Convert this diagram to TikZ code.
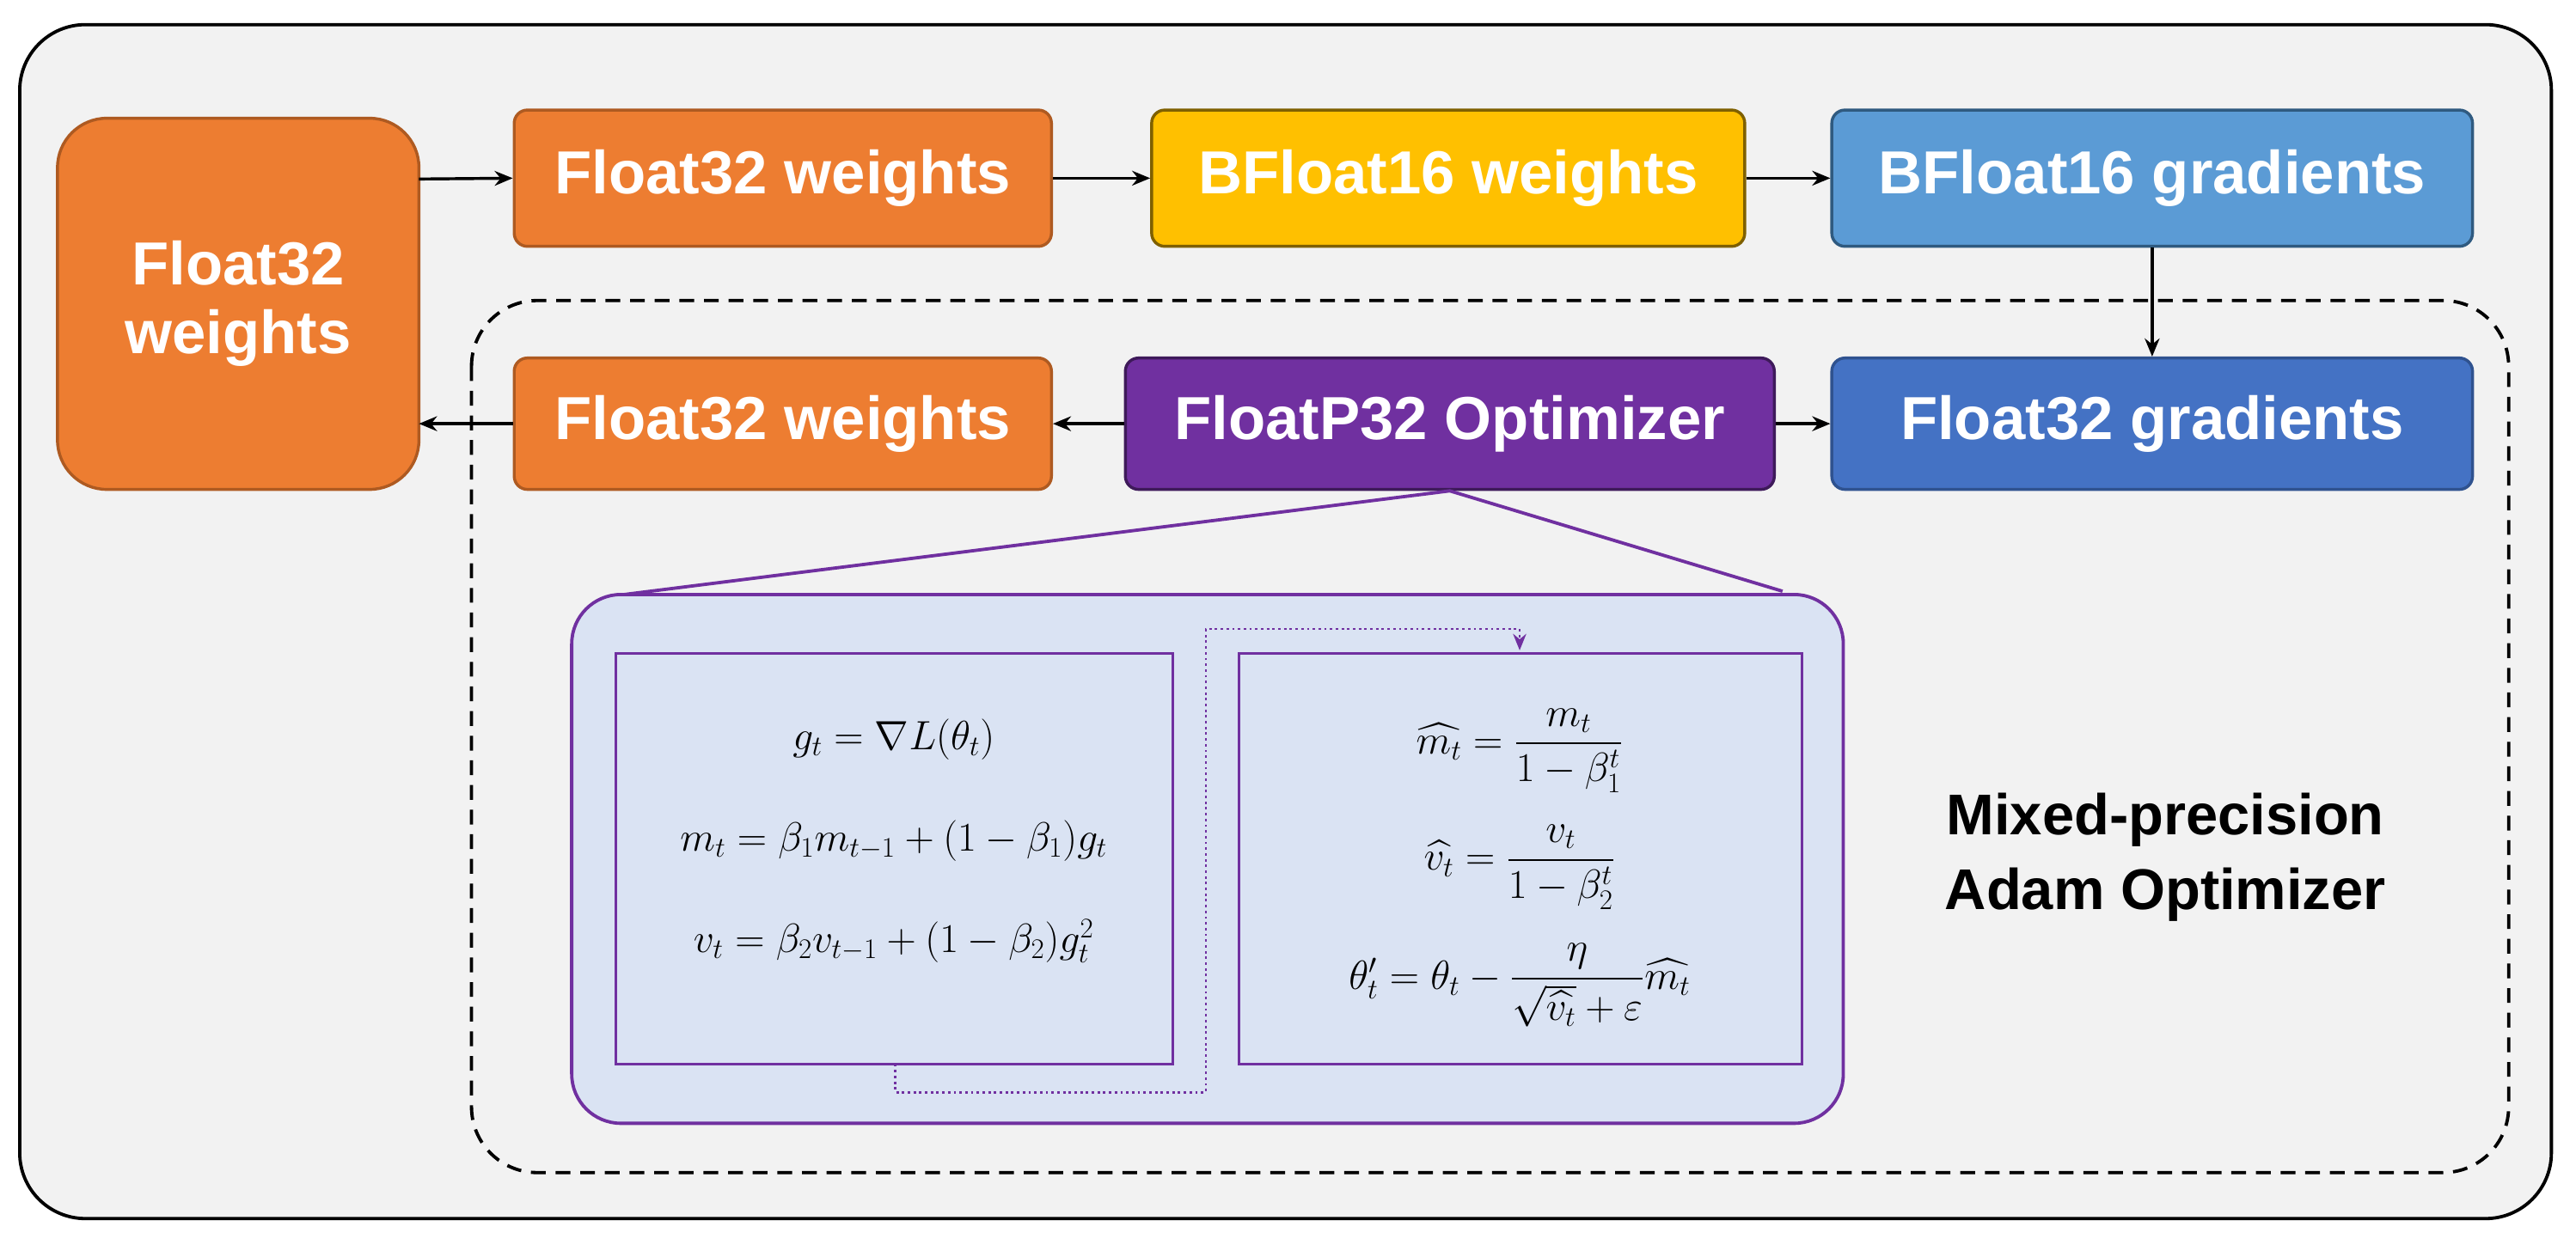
\documentclass[tikz,border=0pt]{standalone}
\usepackage{amsmath}
\usepackage{fontspec}
\setmainfont{Liberation Sans}
\usetikzlibrary{arrows.meta}
\definecolor{og}{HTML}{ED7D31}\definecolor{ogd}{HTML}{AE5A21}
\definecolor{yl}{HTML}{FFC000}\definecolor{yld}{HTML}{7F6000}
\definecolor{lb}{HTML}{5B9BD5}\definecolor{lbd}{HTML}{2F5A80}
\definecolor{db}{HTML}{4472C4}\definecolor{dbd}{HTML}{2F528F}
\definecolor{pu}{HTML}{7030A0}\definecolor{pud}{HTML}{3E1A5A}
\definecolor{pale}{HTML}{DAE3F3}
\begin{document}
\begin{tikzpicture}[x=1pt,y=-1pt,
  box/.style={draw, line width=1.8pt, rounded corners=8pt, text=white, font=\fontsize{37}{42}\selectfont\bfseries},
  arr/.style={-{Stealth[length=11pt,width=9pt]}, line width=1.8pt},
  sub/.style={draw=pu, line width=1.5pt, fill=pale}]
\useasboundingbox (0,0) rectangle (1568,757.6);
\draw[fill={rgb,255:red,242;green,242;blue,242}, line width=2pt, rounded corners=40pt] (12,15) rectangle (1553,742);
\node[box, fill=og, draw=ogd, rounded corners=30pt, minimum width=220pt, minimum height=226pt, align=center] (big) at (145,185) {Float32\\weights};
\node[box, fill=og, draw=ogd, minimum width=327pt, minimum height=83pt] (fw1) at (476.5,108.5) {Float32 weights};
\node[box, fill=yl, draw=yld, minimum width=361pt, minimum height=83pt] (bw) at (881.5,108.5) {BFloat16 weights};
\node[box, fill=lb, draw=lbd, minimum width=390pt, minimum height=83pt] (bg) at (1310,108.5) {BFloat16 gradients};
\draw[dashed, line width=2pt, rounded corners=40pt, dash pattern=on 9pt off 6pt] (287,183) rectangle (1527,714);
\node[box, fill=og, draw=ogd, minimum width=327pt, minimum height=80pt] (fw2) at (476.5,258) {Float32 weights};
\node[box, fill=pu, draw=pud, minimum width=395pt, minimum height=80pt] (opt) at (882.5,258) {FloatP32 Optimizer};
\node[box, fill=db, draw=dbd, minimum width=390pt, minimum height=80pt] (fg) at (1310,258) {Float32 gradients};
\draw[arr] (255,109) -- (fw1.west);
\draw[arr] (fw1) -- (bw);
\draw[arr] (bw) -- (bg);
\draw[arr] (bg) -- (fg);
\draw[arr] (opt) -- (fg);
\draw[arr] (opt) -- (fw2);
\draw[arr] (fw2.west) -- (255,258);
\coordinate (c1) at (380,362); \coordinate (c2) at (1085,360);
\draw[pu, line width=2pt] (c1) -- (opt.south) -- (c2);
\draw[sub, line width=2pt, rounded corners=30pt] (348,362) rectangle (1122,684);
\node[sub, minimum width=339pt, minimum height=250pt] (L) at (544.5,523) {};
\node[sub, minimum width=343pt, minimum height=250pt] (R) at (925.5,523) {};
\draw[pu, line width=1.5pt, dotted, -{Stealth[length=10pt,width=8pt]}] (545,648) -- (545,665) -- (734,665) -- (734,383) -- (925,383) -- (925,396);
\begin{scope}[font=\fontsize{25}{30}\selectfont]
\node at (544,450) {$g_t=\nabla L(\theta_t)$};
\node at (544,512) {$m_t=\beta_1 m_{t-1}+(1-\beta_1)g_t$};
\node at (544,573) {$v_t=\beta_2 v_{t-1}+(1-\beta_2)g_t^2$};
\node at (925,457) {$\widehat{m_t}=\dfrac{m_t}{1-\beta_1^t}$};
\node at (925,528) {$\widehat{v_t}=\dfrac{v_t}{1-\beta_2^t}$};
\node at (925,600) {$\theta_t'=\theta_t-\dfrac{\eta}{\sqrt{\widehat{v_t}}+\varepsilon}\widehat{m_t}$};
\end{scope}
\node[align=center, font=\fontsize{35}{46}\selectfont\bfseries] (mp) at (1318,522) {Mixed-precision\\Adam Optimizer};
\end{tikzpicture}
\end{document}
